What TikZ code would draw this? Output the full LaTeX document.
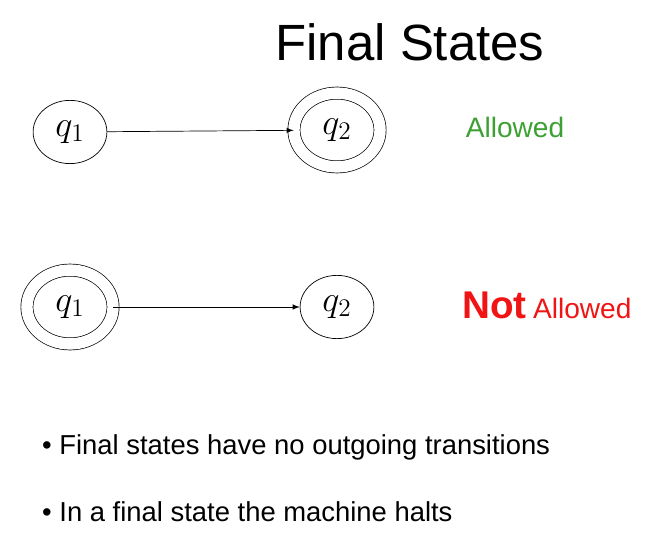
\documentclass[tikz,border=0pt]{standalone}
\usepackage{fontspec}
\setmainfont{Liberation Sans}
\usetikzlibrary{shapes.geometric}
\definecolor{okgreen}{RGB}{60,160,50}
\definecolor{nored}{RGB}{240,20,20}
\tikzset{
    state/.style = {draw, ellipse, minimum width=42pt, minimum height=36pt, inner sep=0pt},
    accept/.style = {state, double, double distance=6.5pt, minimum width=49pt, minimum height=42pt},
    qlabel/.style = {font=\fontsize{22}{22}\selectfont},
}
\begin{document}
\begin{tikzpicture}[x=0.02cm, y=-0.02cm, >=latex]
    \useasboundingbox (0,0) rectangle (665,560);

    \node[font=\fontsize{29}{32}\selectfont] (title) at (410,42) {Final States};

    % allowed
    \node[state, qlabel] (qa) at (70,132) {$q_1$};
    \node[accept, qlabel] (qb) at (337,130) {$q_2$};
    \draw[->] (qa) -- (qb);
    \node[okgreen, font=\fontsize{16}{18}\selectfont] (ok) at (515,127) {Allowed};

    % not allowed
    \node[accept, qlabel] (qc) at (70,307) {$q_1$};
    \node[state, qlabel] (qd) at (337,307) {$q_2$};
    \draw[->] (qc) -- (qd);
    \node[nored, anchor=base west] (no) at (456,318) {\fontsize{22}{24}\selectfont\bfseries Not\,\fontsize{16}{18}\selectfont\mdseries Allowed};

    % bullets
    \node[anchor=base west, font=\fontsize{15.6}{18}\selectfont] (b1) at (36,454) {• Final states have no outgoing transitions};
    \node[anchor=base west, font=\fontsize{15.6}{18}\selectfont] (b2) at (36,521) {• In a final state the machine halts};
\end{tikzpicture}
\end{document}
